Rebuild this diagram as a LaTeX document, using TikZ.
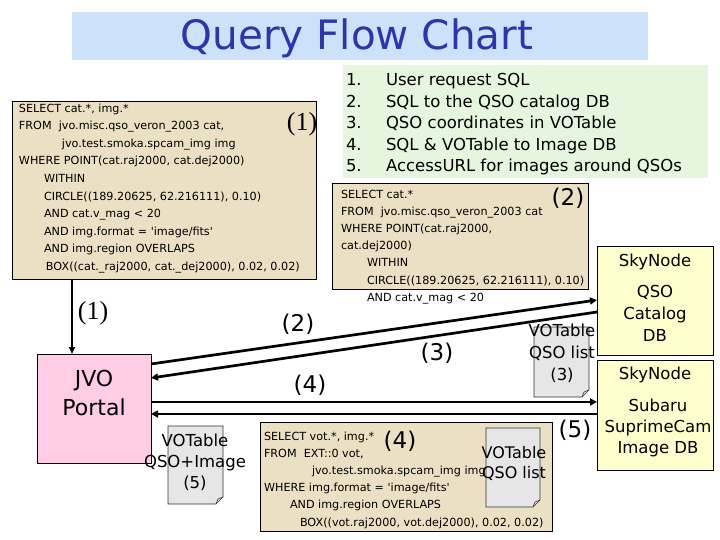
\documentclass[tikz,border=0pt]{standalone}
\usepackage{fontspec}
\setmainfont{DejaVu Sans}
\newfontfamily\sqlfont{DejaVu Sans}
\newfontfamily\numfont{Liberation Serif}
\usetikzlibrary{arrows.meta}
\definecolor{parch}{RGB}{236,224,196}
\definecolor{bandblue}{RGB}{204,225,250}
\definecolor{titleblue}{RGB}{46,52,170}
\definecolor{listgreen}{RGB}{230,246,222}
\definecolor{portalpink}{RGB}{255,204,230}
\definecolor{nodeyellow}{RGB}{255,255,206}
\definecolor{docgray}{RGB}{230,230,230}
\newcommand\tp[1]{\rule{0pt}{#1}}
\begin{document}
\begin{tikzpicture}[x=1pt,y=-1pt,
  corner/.style={anchor=north west, inner sep=0pt, outer sep=0pt},
  sqlbox/.style={corner, draw=black, line width=1pt, fill=parch},
  sqltext/.style={corner, align=left, font=\sqlfont\fontsize{11.2}{17.6}\selectfont},
  dbbox/.style={corner, draw=black, line width=0.9pt, fill=nodeyellow},
  docbox/.style={inner sep=0pt, outer sep=0pt},
  docline/.style={draw=black!80, line width=0.6pt, fill=docgray},
  doctext/.style={align=center, inner sep=0pt, font=\fontsize{16.5}{21}\selectfont},
  lab/.style={inner sep=0pt, font=\fontsize{23}{25}\selectfont},
  serlab/.style={inner sep=0pt, font=\numfont\fontsize{26}{28}\selectfont},
  flow/.style={line width=2.7pt, -{Triangle[length=7pt,width=7pt]}},
  flowthin/.style={line width=1.8pt, -{Triangle[length=7pt,width=6pt]}}
]
\useasboundingbox (0,0) rectangle (720,540);
\fill[white] (0,0) rectangle (720,540);

% title
\node[corner, fill=bandblue, minimum width=576pt, minimum height=48pt] (band) at (72,12) {};
\node[anchor=base, inner sep=0pt, text=titleblue, font=\fontsize{40.5}{42}\selectfont] (title) at (357,50) {Query Flow Chart};

% list
\node[corner, fill=listgreen, minimum width=365pt, minimum height=113pt] (listbox) at (343,65) {};
\node[corner, align=left, font=\fontsize{16.5}{21.5}\selectfont] (listnum) at (346,73)
  {\tp{13pt}1.\\2.\\3.\\4.\\5.};
\node[corner, align=left, font=\fontsize{16.5}{21.5}\selectfont] (listtext) at (386,73)
  {\tp{13pt}User request SQL\\SQL to the QSO catalog DB\\QSO coordinates in VOTable\\SQL \& VOTable to Image DB\\AccessURL for images around QSOs};

% SQL box 1
\node[sqlbox, minimum width=304pt, minimum height=177pt] (sql1) at (12,102) {};
\node[sqltext] (sql1text) at (19,103) {\tp{9pt}SELECT cat.*, img.*\\
FROM\ \ jvo.misc.qso\_veron\_2003 cat,\\
\hspace*{43pt}jvo.test.smoka.spcam\_img img\\
WHERE POINT(cat.raj2000, cat.dej2000)\\
\hspace*{25pt}WITHIN\\
\hspace*{25pt}CIRCLE((189.20625, 62.216111), 0.10)\\
\hspace*{25pt}AND cat.v\_mag < 20\\
\hspace*{25pt}AND img.format = 'image/fits'\\
\hspace*{25pt}AND img.region OVERLAPS\\
\hspace*{27pt}BOX((cat.\_raj2000, cat.\_dej2000), 0.02, 0.02)};
\node[serlab] (lab1a) at (302,124) {(1)};

% SQL box 2
\node[sqlbox, minimum width=256pt, minimum height=105pt] (sql2) at (332,184) {};
\node[sqltext, font=\sqlfont\fontsize{11.2}{17.2}\selectfont] (sql2text) at (341,189) {\tp{9pt}SELECT cat.*\\
FROM\ \ jvo.misc.qso\_veron\_2003 cat\\
WHERE POINT(cat.raj2000,\\
cat.dej2000)\\
\hspace*{26pt}WITHIN\\
\hspace*{26pt}CIRCLE((189.20625, 62.216111), 0.10)\\
\hspace*{26pt}AND cat.v\_mag < 20};
\node[lab] (lab2a) at (568,198) {(2)};

% SQL box 4
\node[sqlbox, minimum width=292pt, minimum height=109pt] (sql4) at (260,422) {};
\node[sqltext, font=\sqlfont\fontsize{11.2}{17.2}\selectfont] (sql4text) at (264,431) {\tp{9pt}SELECT vot.*, img.*\\
FROM\ \ EXT::0 vot,\\
\hspace*{48pt}jvo.test.smoka.spcam\_img img\\
WHERE img.format = 'image/fits'\\
\hspace*{26pt}AND img.region OVERLAPS\\
\hspace*{36pt}BOX((vot.raj2000, vot.dej2000), 0.02, 0.02)};
\node[lab] (lab4a) at (400,441) {(4)};

% JVO portal
\node[corner, draw=black, line width=0.9pt, fill=portalpink, minimum width=114pt, minimum height=109pt] (portal) at (37,354) {};
\node[align=center, inner sep=0pt, font=\fontsize{22}{29}\selectfont] (portaltext) at (94,393) {JVO\\Portal};

% SkyNode boxes
\node[dbbox, minimum width=116pt, minimum height=109pt] (skyqso) at (597,246) {};
\node[inner sep=0pt, font=\fontsize{16.5}{20}\selectfont] (skyqsohead) at (655,262) {SkyNode};
\node[align=center, inner sep=0pt, font=\fontsize{16.5}{22}\selectfont] (skyqsotext) at (655,313) {QSO\\Catalog\\DB};
\node[dbbox, minimum width=116pt, minimum height=110pt] (subaru) at (597,360) {};
\node[inner sep=0pt, font=\fontsize{16.5}{20}\selectfont] (subaruhead) at (655,375) {SkyNode};
\node[align=center, inner sep=0pt, font=\fontsize{16.5}{21}\selectfont] (subarutext) at (658,428) {Subaru\\SuprimeCam\\Image DB};

% connectors
\draw[flowthin] ([xshift=60pt]sql1.south west) -- ([xshift=35pt]portal.north west);
\draw[flow] ([yshift=-10pt]portal.north east) -- ([yshift=-54pt]skyqso.north west);
\draw[flow] ([yshift=-66pt]skyqso.north west) -- ([yshift=-24pt]portal.north east);
\draw[flow] ([yshift=-48pt]portal.north east) -- ([yshift=-42pt]subaru.north west);
\draw[flow] ([yshift=-54pt]subaru.north west) -- ([yshift=-60pt]portal.north east);

\node[serlab] (lab1b) at (93,313) {(1)};
\node[lab] (lab2b) at (298,324) {(2)};
\node[lab] (lab3b) at (437,353) {(3)};
\node[lab] (lab4b) at (310,385) {(4)};
\node[lab] (lab5b) at (575,430) {(5)};

% documents
\node[docbox, minimum width=55pt, minimum height=78pt] (doc5) at (195.5,465) {};
\draw[docline] (doc5.north west) -- (doc5.north east) -- ([yshift=7pt]doc5.south east) -- ([xshift=-7pt]doc5.south east) -- (doc5.south west) -- cycle;
\draw[docline, fill=none] ([xshift=-7pt]doc5.south east) -- ([xshift=-5pt,yshift=5pt]doc5.south east) -- ([yshift=7pt]doc5.south east);
\node[doctext] (doc5text) at (195,462) {VOTable\\QSO+Image\\(5)};

\node[docbox, minimum width=55pt, minimum height=70pt] (doc3) at (561.5,362) {};
\draw[docline] (doc3.north west) -- (doc3.north east) -- ([yshift=7pt]doc3.south east) -- ([xshift=-7pt]doc3.south east) -- (doc3.south west) -- cycle;
\draw[docline, fill=none] ([xshift=-7pt]doc3.south east) -- ([xshift=-5pt,yshift=5pt]doc3.south east) -- ([yshift=7pt]doc3.south east);
\node[doctext, font=\fontsize{16.5}{22}\selectfont] (doc3text) at (562,353) {VOTable\\QSO list\\(3)};

\node[docbox, minimum width=54pt, minimum height=79pt] (doc4) at (513,467.5) {};
\draw[docline] (doc4.north west) -- (doc4.north east) -- ([yshift=7pt]doc4.south east) -- ([xshift=-7pt]doc4.south east) -- (doc4.south west) -- cycle;
\draw[docline, fill=none] ([xshift=-7pt]doc4.south east) -- ([xshift=-5pt,yshift=5pt]doc4.south east) -- ([yshift=7pt]doc4.south east);
\node[doctext, font=\fontsize{16}{20}\selectfont] (doc4text) at (514,463) {VOTable\\QSO list};
\end{tikzpicture}
\end{document}
